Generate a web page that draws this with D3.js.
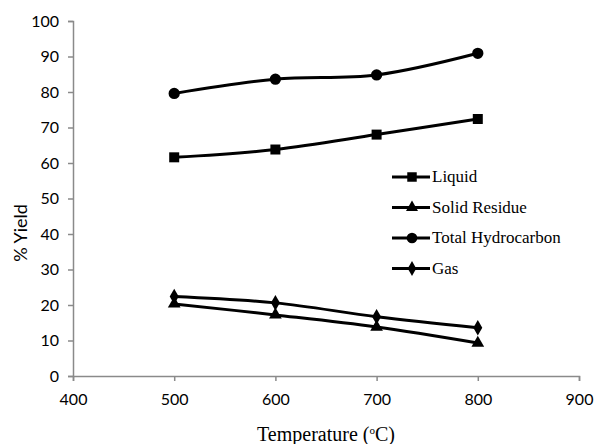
<!DOCTYPE html>
<html>
<head>
<meta charset="utf-8">
<script src="https://cdn.jsdelivr.net/npm/d3@7"></script>
<style>
  body { margin: 0; background: #fff; }
  svg { display: block; }
</style>
</head>
<body>
<div id="chart"></div>
<script>
const temps = [500, 600, 700, 800];
const liquid = [61.6, 63.8, 68.0, 72.4];
const solidResidue = [20.3, 17.2, 13.8, 9.3];
const totalHydrocarbon = [79.6, 83.6, 84.8, 90.9];
const gas = [22.4, 20.6, 16.7, 13.6];
const xTicks = [400, 500, 600, 700, 800, 900];
const yTicks = [0, 10, 20, 30, 40, 50, 60, 70, 80, 90, 100];

const series = [
  { name: 'Liquid', values: liquid, symbol: d3.symbolSquare, size: 100 },
  { name: 'Solid Residue', values: solidResidue, symbol: d3.symbolTriangle, size: 70 },
  { name: 'Total Hydrocarbon', values: totalHydrocarbon, symbol: d3.symbolCircle, size: 100 },
  { name: 'Gas', values: gas, symbol: d3.symbolDiamond, size: 70 }
];

const width = 594, height = 444;
const margin = { left: 73, right: 15, top: 21, bottom: 68 };

const svg = d3.select('#chart').append('svg')
  .attr('width', width)
  .attr('height', height);

const x = d3.scaleLinear().domain([400, 900]).range([margin.left, width - margin.right]);
const y = d3.scaleLinear().domain([0, 100]).range([height - margin.bottom, margin.top]);

// axes
const xAxis = svg.append('g')
  .attr('transform', `translate(0,${y(0)})`)
  .call(d3.axisBottom(x).tickValues(xTicks).tickSize(5).tickPadding(13).tickFormat(d3.format('d')));
const yAxis = svg.append('g')
  .attr('transform', `translate(${x(400)},0)`)
  .call(d3.axisLeft(y).tickValues(yTicks).tickSize(5).tickPadding(9).tickFormat(d3.format('d')));

[xAxis, yAxis].forEach(a => {
  a.select('.domain').attr('stroke', '#8a8a8a').attr('stroke-width', 1.5);
  a.selectAll('.tick line').attr('stroke', '#8a8a8a').attr('stroke-width', 1.5);
  a.selectAll('.tick text')
    .attr('fill', '#000')
    .attr('font-family', 'Lato, sans-serif')
    .attr('font-size', '16px');
});

// axis titles
const xt = svg.append('text')
  .attr('x', (x(400) + x(900)) / 2)
  .attr('y', 441)
  .attr('text-anchor', 'middle')
  .attr('font-family', '"Liberation Serif", serif')
  .attr('font-size', '20px')
  .attr('fill', '#000');
xt.append('tspan').text('Temperature (');
xt.append('tspan').attr('font-size', '11px').attr('dy', -7).text('o');
xt.append('tspan').attr('dy', 7).text('C)');

svg.append('text')
  .attr('transform', 'translate(27,233) rotate(-90)')
  .attr('text-anchor', 'middle')
  .attr('font-family', 'Lato, sans-serif')
  .attr('font-size', '18px')
  .attr('fill', '#000')
  .text('% Yield');

// lines
const line = d3.line()
  .x((d, i) => x(temps[i]))
  .y(d => y(d))
  .curve(d3.curveCatmullRom.alpha(0.5));

series.forEach(s => {
  svg.append('path')
    .datum(s.values)
    .attr('d', line)
    .attr('fill', 'none')
    .attr('stroke', '#000')
    .attr('stroke-width', 3);

  svg.selectAll(null)
    .data(s.values)
    .enter()
    .append('path')
    .attr('transform', (d, i) => `translate(${x(temps[i])},${y(d)})`)
    .attr('d', d3.symbol().type(s.symbol).size(s.size))
    .attr('fill', '#000');
});

// legend
const legend = svg.append('g').attr('transform', 'translate(392,177)');
series.forEach((s, i) => {
  const g = legend.append('g').attr('transform', `translate(0,${i * 30.5})`);
  g.append('line')
    .attr('x1', 0).attr('x2', 38)
    .attr('y1', 0).attr('y2', 0)
    .attr('stroke', '#000')
    .attr('stroke-width', 3);
  g.append('path')
    .attr('transform', 'translate(20,0)')
    .attr('d', d3.symbol().type(s.symbol).size(s.size * 0.9))
    .attr('fill', '#000');
  g.append('text')
    .attr('x', 40)
    .attr('y', 5)
    .attr('font-family', '"Liberation Serif", serif')
    .attr('font-size', '17px')
    .attr('fill', '#000')
    .text(s.name);
});
</script>
</body>
</html>
